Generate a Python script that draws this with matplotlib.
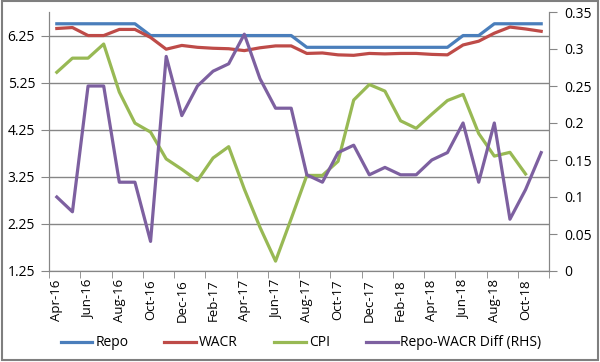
import matplotlib.pyplot as plt
from matplotlib.patches import Rectangle
from matplotlib.ticker import FormatStrFormatter

months = ['Apr-16', 'May-16', 'Jun-16', 'Jul-16', 'Aug-16', 'Sep-16', 'Oct-16', 'Nov-16',
          'Dec-16', 'Jan-17', 'Feb-17', 'Mar-17', 'Apr-17', 'May-17', 'Jun-17', 'Jul-17',
          'Aug-17', 'Sep-17', 'Oct-17', 'Nov-17', 'Dec-17', 'Jan-18', 'Feb-18', 'Mar-18',
          'Apr-18', 'May-18', 'Jun-18', 'Jul-18', 'Aug-18', 'Sep-18', 'Oct-18', 'Nov-18']

repo = [6.5, 6.5, 6.5, 6.5, 6.5, 6.5, 6.25, 6.25, 6.25, 6.25, 6.25, 6.25, 6.25, 6.25, 6.25, 6.25,
        6.0, 6.0, 6.0, 6.0, 6.0, 6.0, 6.0, 6.0, 6.0, 6.0, 6.25, 6.25, 6.5, 6.5, 6.5, 6.5]
wacr = [6.40, 6.42, 6.25, 6.25, 6.38, 6.38, 6.21, 5.96, 6.04, 6.00, 5.98, 5.97, 5.93, 5.99,
        6.03, 6.03, 5.87, 5.88, 5.84, 5.83, 5.87, 5.86, 5.87, 5.87, 5.85, 5.84, 6.05, 6.13,
        6.30, 6.43, 6.39, 6.34]
cpi = [5.47, 5.77, 5.77, 6.07, 5.05, 4.39, 4.20, 3.63, 3.41, 3.17, 3.65, 3.89, 2.99, 2.18,
       1.46, 2.36, 3.28, 3.28, 3.58, 4.88, 5.21, 5.07, 4.44, 4.28, 4.58, 4.87, 5.00, 4.17,
       3.69, 3.77, 3.31]
diff = [0.10, 0.08, 0.25, 0.25, 0.12, 0.12, 0.04, 0.29, 0.21, 0.25, 0.27, 0.28, 0.32, 0.26,
        0.22, 0.22, 0.13, 0.12, 0.16, 0.17, 0.13, 0.14, 0.13, 0.13, 0.15, 0.16, 0.20, 0.12,
        0.20, 0.07, 0.11, 0.16]

left_ticks = [1.25, 2.25, 3.25, 4.25, 5.25, 6.25]
right_ticks = [0, 0.05, 0.1, 0.15, 0.2, 0.25, 0.3, 0.35]

plt.rcParams['font.family'] = ['Open Sans', 'DejaVu Sans']
grey = '#868686'

fig = plt.figure(figsize=(6, 3.62), dpi=100)
ax = fig.add_axes([49 / 600, 1 - 271 / 362, 500 / 600, 259 / 362])
ax2 = ax.twinx()

x = range(len(months))
l1, = ax.plot(x, repo, color='#4A7EBB', lw=2.3, label='Repo')
l2, = ax.plot(x, wacr, color='#BE4B48', lw=2.3, label='WACR')
l3, = ax.plot(range(len(cpi)), cpi, color='#98B954', lw=2.3, label='CPI')
l4, = ax2.plot(x, diff, color='#7D60A0', lw=2.3, label='Repo-WACR Diff (RHS)')

ax.set_xlim(-0.5, len(months) - 0.5)
ax.set_ylim(1.25, 6.75)
ax.set_yticks(left_ticks)
ax.yaxis.set_major_formatter(FormatStrFormatter('%.2f'))
ax2.set_ylim(0, 0.35)
ax2.set_yticks(right_ticks)
ax2.set_yticklabels(['%g' % t for t in right_ticks])

# labels on every 2nd month, tick marks between categories
ax.set_xticks(list(range(0, len(months), 2)))
ax.set_xticklabels(months[::2], rotation=90)
ax.set_xticks([i - 0.5 for i in range(0, len(months) + 1, 2)], minor=True)
ax.tick_params(axis='x', which='major', length=0, pad=6, labelsize=9.5)
ax.tick_params(axis='x', which='minor', length=5, color=grey)
ax.tick_params(axis='y', length=6, color=grey, labelsize=10, pad=4)
ax2.tick_params(axis='y', length=6, color=grey, labelsize=10, pad=5)

ax.grid(axis='y', color=grey, lw=1)
ax.set_axisbelow(True)
for a in (ax, ax2):
    a.spines['top'].set_visible(False)
    for s in ('left', 'right', 'bottom'):
        a.spines[s].set_color(grey)

fig.legend(handles=[l1, l2, l3, l4], loc='center left', bbox_to_anchor=(48 / 600, 1 - 343 / 362),
           ncol=4, frameon=False, fontsize=10, handlelength=2.3, columnspacing=2.6,
           handletextpad=0.2)

fig.patches.append(Rectangle((0.004, 0.006), 0.992, 0.99, transform=fig.transFigure,
                             fill=False, edgecolor='#7f7f7f', lw=1.5))

fig.savefig('out.png', dpi=100)
